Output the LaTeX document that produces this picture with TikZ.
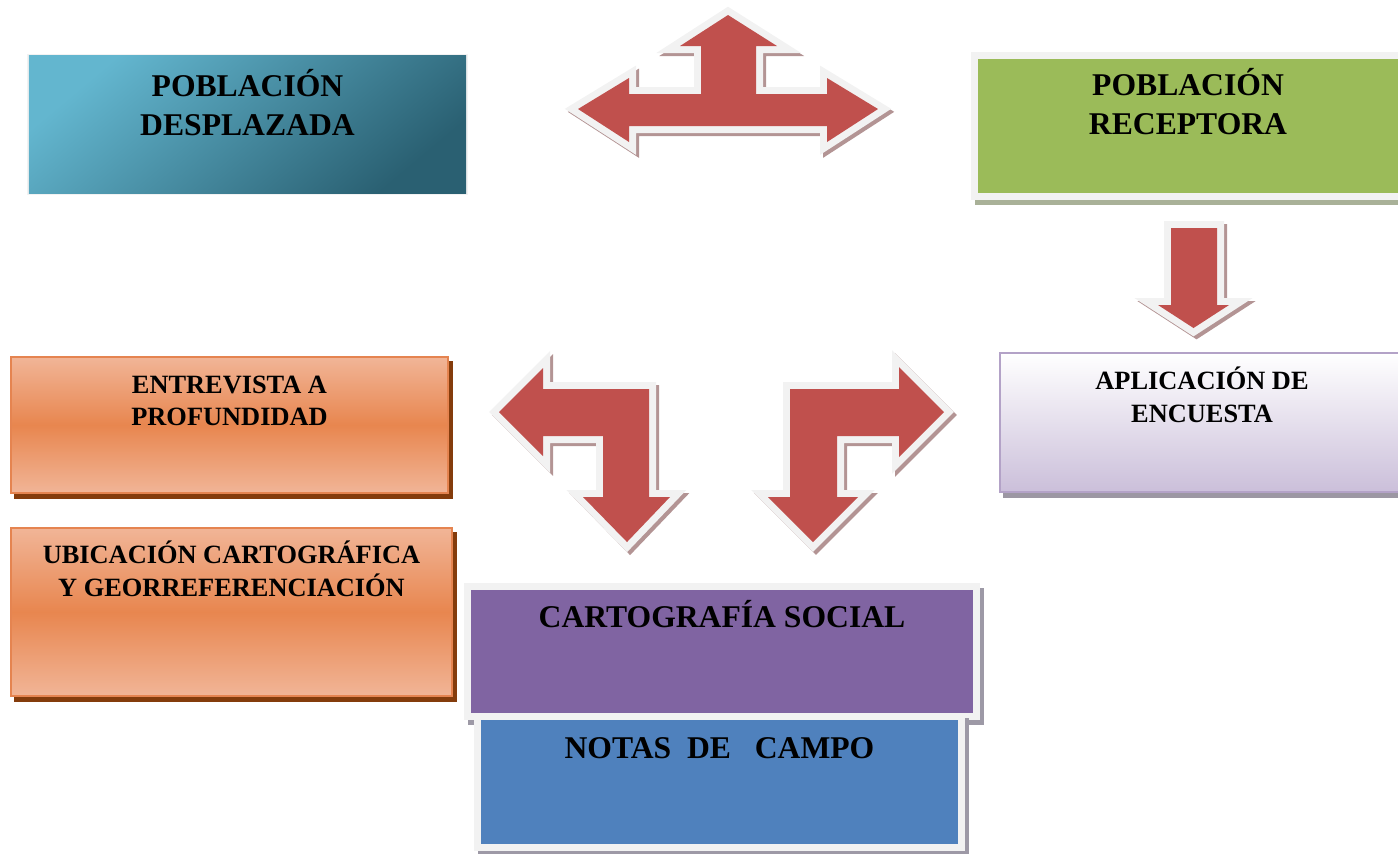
\documentclass[tikz,border=0pt]{standalone}
\usepackage{fontspec}
\setmainfont{Liberation Serif}
\usetikzlibrary{positioning}
\definecolor{arrowred}{HTML}{C0504D}
\definecolor{arrowshade}{HTML}{B39494}
\definecolor{rimgrey}{HTML}{F2F2F2}
\definecolor{despLight}{HTML}{63B6CF}
\definecolor{despDark}{HTML}{2A6072}
\definecolor{recGreen}{HTML}{9BBB59}
\definecolor{recShade}{HTML}{A9B198}
\definecolor{orLight}{HTML}{F1B597}
\definecolor{orMid}{HTML}{E8864F}
\definecolor{orLine}{HTML}{E58450}
\definecolor{orShade}{HTML}{843C0C}
\definecolor{lavLine}{HTML}{B3A2C7}
\definecolor{lavBottom}{HTML}{CBBFDA}
\definecolor{lavShade}{HTML}{9C97A3}
\definecolor{cartoPurple}{HTML}{8064A2}
\definecolor{notasBlue}{HTML}{4F81BD}
\definecolor{boxShade}{HTML}{9D99A6}
\tikzset{
  bigtitle/.style={font=\bfseries\fontsize{9}{11}\selectfont,
    align=center, inner sep=0pt, anchor=base},
  smalltitle/.style={font=\bfseries\fontsize{7.5}{9.25}\selectfont,
    align=center, inner sep=0pt, anchor=base},
  panel/.style={rectangle, inner sep=0pt, outer sep=0pt},
  rimmed/.style={preaction={draw=rimgrey, line width=#1}},
  shadowed/.style 2 args={preaction={fill=#1, draw=#1, line width=#2,
    transform canvas={xshift=0.04cm, yshift=-0.05cm}}},
  orangebox/.style={panel, shadowed={orShade}{0.02cm}, draw=orLine,
    line width=0.02cm, top color=orLight, bottom color=orLight,
    middle color=orMid},
  redarrow/.style={fill=arrowred, line join=miter,
    preaction={fill=arrowshade, draw=arrowshade, line width=0.14cm,
      line join=miter, transform canvas={xshift=0.03cm, yshift=-0.03cm}},
    preaction={draw=rimgrey, line width=0.14cm, line join=miter}}
}
\begin{document}
\begin{tikzpicture}[x=0.01cm, y=-0.01cm]
    \useasboundingbox (0,0) rectangle (1398,853);

    % boxes
    \node[panel, rimmed=0.04cm, top color=despLight, bottom color=despDark,
          shading angle=40, minimum width=4.37cm, minimum height=1.37cm]
          (despl) at (247.5,124.5) {};
    \node[panel, shadowed={recShade}{0.14cm}, rimmed=0.14cm, fill=recGreen,
          minimum width=4.20cm, minimum height=1.34cm]
          (recep) at (1188,126) {};
    \node[orangebox, minimum width=4.37cm, minimum height=1.36cm]
          (entrev) at (229.5,425) {};
    \node[orangebox, minimum width=4.41cm, minimum height=1.68cm]
          (ubic) at (231.5,612) {};
    \node[panel, shadowed={lavShade}{0.02cm}, draw=lavLine, line width=0.02cm,
          top color=white, bottom color=lavBottom,
          minimum width=4.04cm, minimum height=1.39cm]
          (encuesta) at (1202,422.5) {};
    \node[panel, shadowed={boxShade}{0.14cm}, rimmed=0.14cm, fill=cartoPurple,
          minimum width=5.01cm, minimum height=1.23cm]
          (carto) at (722,651.5) {};
    \node[panel, shadowed={boxShade}{0.14cm}, rimmed=0.14cm, fill=notasBlue,
          minimum width=4.77cm, minimum height=1.24cm]
          (notas) at (719.5,782) {};

    % texts (base = last line)
    \node[bigtitle] (desplT) at ([yshift=-0.795cm]despl.north)
          {POBLACIÓN\\DESPLAZADA};
    \node[bigtitle] (recepT) at ([yshift=-0.755cm]recep.north)
          {POBLACIÓN\\RECEPTORA};
    \node[smalltitle] (entrevT) at ([yshift=-0.685cm]entrev.north)
          {ENTREVISTA A\\PROFUNDIDAD};
    \node[smalltitle] (ubicT) at ([yshift=-0.68cm]ubic.north)
          {UBICACIÓN CARTOGRÁFICA\\Y GEORREFERENCIACIÓN};
    \node[smalltitle] (encuestaT) at ([yshift=-0.69cm]encuesta.north)
          {APLICACIÓN DE\\ENCUESTA};
    \node[bigtitle] (cartoT) at ([yshift=-0.37cm]carto.north)
          {CARTOGRAFÍA SOCIAL};
    \node[bigtitle] (notasT) at ([yshift=-0.38cm]notas.north)
          {NOTAS\ \ DE\ \ \ CAMPO};

    % block arrows
    \path[redarrow] (578,109) -- (629,78) -- (629,94) -- (701,94)
                    -- (701,46) -- (680,46) -- (728,15) -- (777,46)
                    -- (756,46) -- (756,94) -- (827,94) -- (827,78)
                    -- (878,109) -- (827,142) -- (827,126)
                    -- (629,126) -- (629,142) -- cycle;

    \path[redarrow] (1171,228) -- (1217,228) -- (1217,305) -- (1229,305)
                    -- (1193.5,328) -- (1158,305) -- (1171,305) -- cycle;

    \path[redarrow] (499,412) -- (543,368) -- (543,389) -- (649,389)
                    -- (649,497) -- (670,497) -- (627,542) -- (583,497)
                    -- (603,497) -- (603,436) -- (543,436)
                    -- (543,456) -- cycle;

    \path[redarrow] (944,412) -- (899,367) -- (899,389) -- (790,389)
                    -- (790,497) -- (768,497) -- (813,542) -- (858,497)
                    -- (837,497) -- (837,436) -- (899,436)
                    -- (899,457) -- cycle;
\end{tikzpicture}
\end{document}
